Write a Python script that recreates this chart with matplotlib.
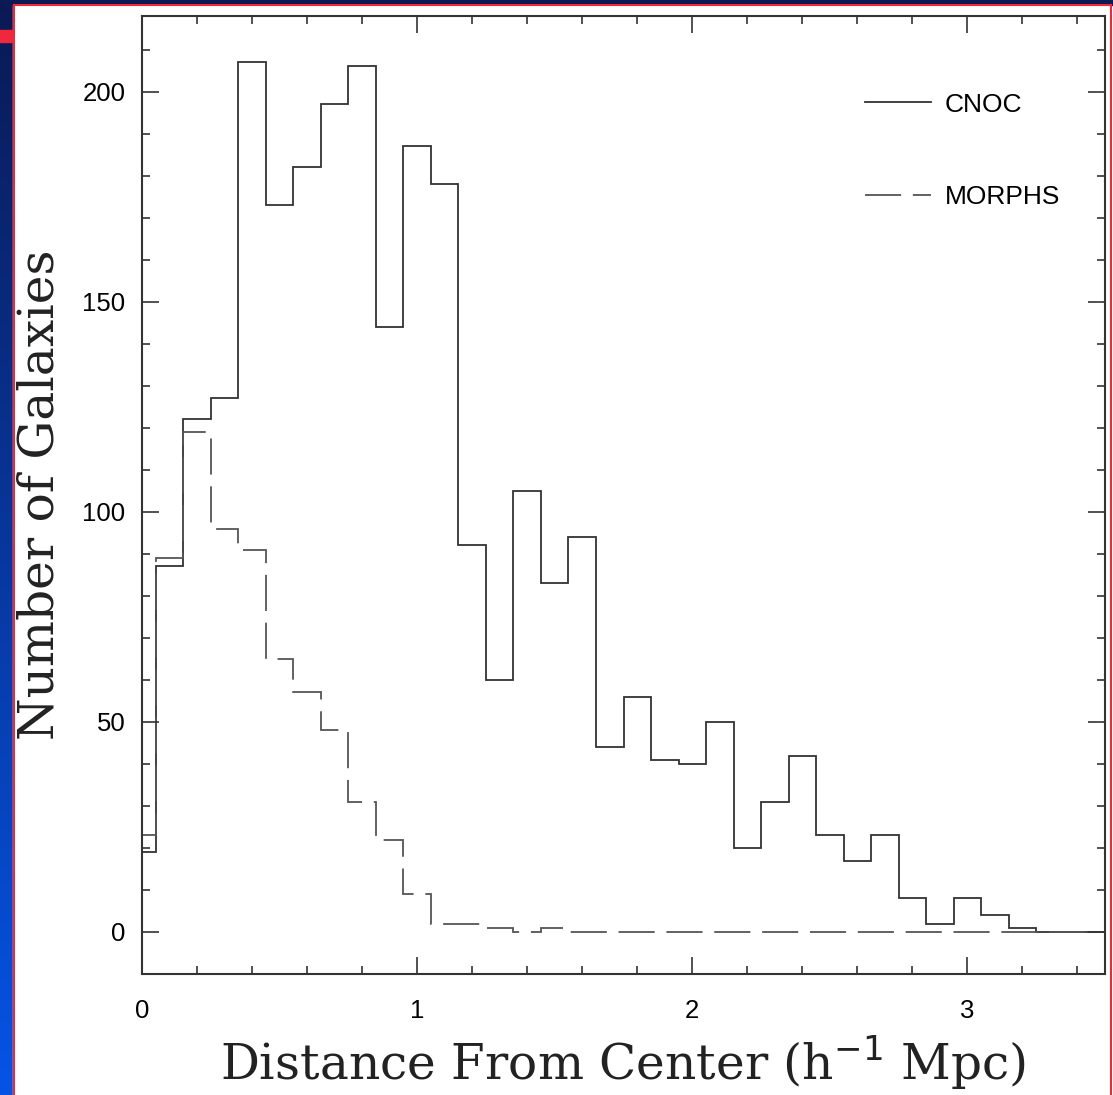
import numpy as np
import matplotlib.pyplot as plt
from matplotlib.ticker import MultipleLocator
from matplotlib.patches import Rectangle
from matplotlib.lines import Line2D

# -----------------------------
# Data, bins are 0.1 h^-1 Mpc wide
# -----------------------------
distance = [0.0, 0.1, 0.2, 0.3, 0.4, 0.5, 0.6, 0.7, 0.8, 0.9,
            1.0, 1.1, 1.2, 1.3, 1.4, 1.5, 1.6, 1.7, 1.8, 1.9,
            2.0, 2.1, 2.2, 2.3, 2.4, 2.5, 2.6, 2.7, 2.8, 2.9,
            3.0, 3.1, 3.2, 3.3, 3.4, 3.5]

cnoc_counts = [19, 87, 122, 127, 207, 173, 182, 197, 206, 144,
               187, 178, 92, 60, 105, 83, 94, 44, 56, 41,
               40, 50, 20, 31, 42, 23, 17, 23, 8, 2,
               8, 4, 1, 0, 0, 0]

morphs_counts = [23, 89, 119, 96, 91, 65, 57, 48, 31, 22,
                 9, 2, 2, 1, 0, 1, 0, 0, 0, 0,
                 0, 0, 0, 0, 0, 0, 0, 0, 0, 0,
                 0, 0, 0, 0, 0, 0]

bin_width = 0.1
edges = [0.0] + [d + bin_width / 2 for d in distance]

# -----------------------------
# Figure + slide background
# -----------------------------
W, H = 1113, 1095
fig = plt.figure(figsize=(W / 100, H / 100), dpi=100)

bg = fig.add_axes([0, 0, 1, 1], zorder=0)
bg.set_xlim(0, W)
bg.set_ylim(H, 0)
bg.axis("off")

top_col = np.array([0.04, 0.10, 0.33])
bot_col = np.array([0.02, 0.33, 0.90])
t = np.linspace(0, 1, 256)[:, None, None]
grad = top_col * (1 - t) + bot_col * t
bg.imshow(grad, extent=(0, 13, H, 0), aspect="auto", zorder=0)
bg.add_patch(Rectangle((0, 0), W, 4.5, color=top_col, zorder=1))
bg.add_patch(Rectangle((13, 4.5), 1097, H, color="white", zorder=1))
red = "#f0283c"
bg.add_patch(Rectangle((0, 30), 13, 12, color=red, zorder=2))
bg.add_line(Line2D([13.5, 13.5], [4.5, H], color=red, lw=1.5, zorder=3))
bg.add_line(Line2D([13.5, 1110.5], [4.5, 4.5], color=red, lw=1.5, zorder=3))
bg.add_line(Line2D([1110.5, 1110.5], [4.5, H], color=red, lw=1.5, zorder=3))

# -----------------------------
# Main plot
# -----------------------------
left, right, top, bottom = 142, 1105, 16, 974
ax = fig.add_axes([left / W, 1 - bottom / H, (right - left) / W, (bottom - top) / H],
                  zorder=2)
ax.patch.set_alpha(0)

ax.stairs(cnoc_counts, edges, baseline=None, color="#333333", lw=1.3,
          label="CNOC")
ax.stairs(morphs_counts, edges, baseline=None, color="#555555", lw=1.3,
          linestyle=(0, (20, 6.5)), label="MORPHS")

ax.set_xlim(0, 3.5)
ax.set_ylim(-10, 218)

ax.xaxis.set_major_locator(MultipleLocator(1))
ax.xaxis.set_minor_locator(MultipleLocator(0.2))
ax.yaxis.set_major_locator(MultipleLocator(50))
ax.yaxis.set_minor_locator(MultipleLocator(10))

for s in ax.spines.values():
    s.set_linewidth(1.5)
    s.set_color("#333333")

ax.tick_params(which="both", direction="in", top=True, right=True,
               color="#333333", width=1.2)
ax.tick_params(which="major", length=12)
ax.tick_params(which="minor", length=6)
ax.tick_params(axis="x", pad=18)
ax.tick_params(axis="y", pad=12)

for lab in ax.get_xticklabels() + ax.get_yticklabels():
    lab.set_fontfamily("Liberation Sans")
    lab.set_fontsize(18.5)

plt.rcParams["mathtext.fontset"] = "dejavuserif"
ax.set_xlabel(r"Distance From Center (h$^{-1}$ Mpc)", fontfamily="DejaVu Serif",
              fontsize=35, color="#222222")
ax.xaxis.label.set_verticalalignment("baseline")
ax.xaxis.set_label_coords(0.5, (bottom - 1080) / (bottom - top))

ax.set_ylabel("Number of Galaxies", fontfamily="DejaVu Serif",
              fontsize=35, color="#222222")
ax.yaxis.set_label_coords((64 - left) / (right - left), 0.5)

ax.legend(loc="upper left", bbox_to_anchor=(0.751, 0.92), frameon=False,
          prop={"family": "Liberation Sans", "size": 19},
          handlelength=2.5, handletextpad=0.5, labelspacing=2.6,
          borderpad=0, borderaxespad=0)

fig.savefig("out.png", dpi=100)
